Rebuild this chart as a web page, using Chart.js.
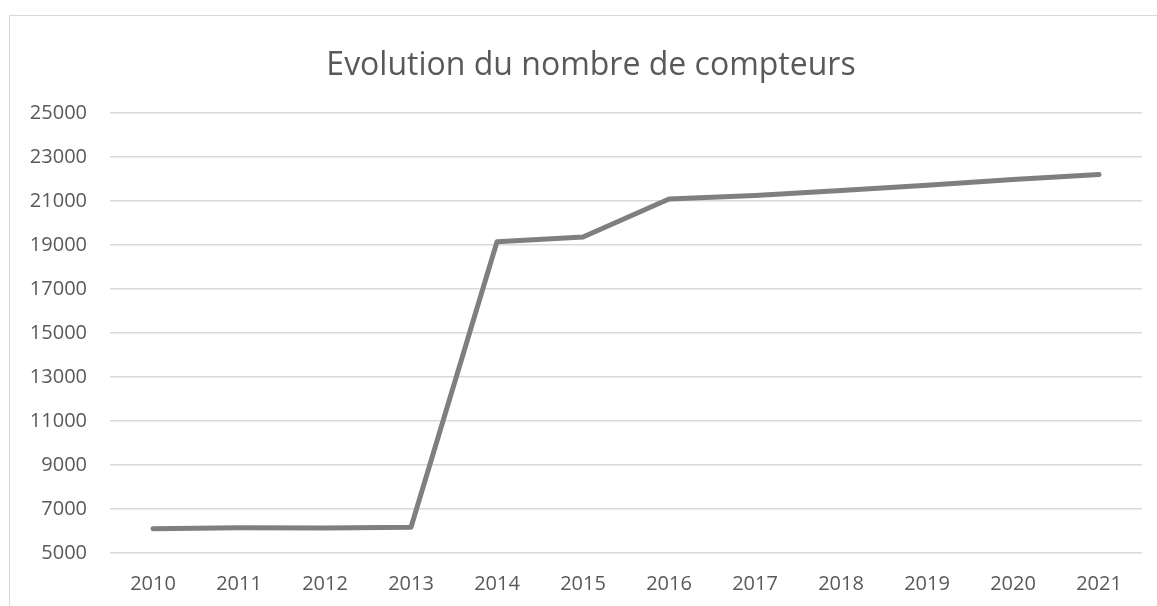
<!DOCTYPE html>
<html>
<head>
<meta charset="utf-8">
<script src="https://cdn.jsdelivr.net/npm/chart.js@4"></script>
<style>
  html, body { margin: 0; padding: 0; background: #fff; overflow: hidden; }
  #wrap { position: relative; width: 1157px; height: 606px; }
  #frame { position: absolute; left: 9px; top: 15px; width: 1200px; height: 700px; border: 1px solid #d9d9d9; box-sizing: border-box; }
  canvas { position: absolute; left: 0; top: 0; }
</style>
</head>
<body>
<div id="wrap">
  <div id="frame"></div>
  <canvas id="compteursChart" width="1157" height="606"></canvas>
</div>
<script>
var years = ["2010", "2011", "2012", "2013", "2014", "2015", "2016", "2017", "2018", "2019", "2020", "2021"];
var compteurs = [6100, 6150, 6140, 6170, 19150, 19360, 21090, 21250, 21480, 21720, 21980, 22210];
var yMin = 5000;
var yMax = 25000;
var yStep = 2000;
var chartTitle = "Evolution du nombre de compteurs";

// title drawn by hand so it can sit centred on the frame, not the canvas
var titlePlugin = {
    id: "frameTitle",
    afterDraw: function (chart) {
        var ctx = chart.ctx;
        ctx.save();
        ctx.font = "32px 'Open Sans'";
        ctx.fillStyle = "#595959";
        ctx.textAlign = "center";
        ctx.textBaseline = "alphabetic";
        ctx.fillText(chartTitle, 591, 75);
        ctx.restore();
    },
};

var ctx = document.getElementById("compteursChart").getContext("2d");

new Chart(ctx, {
    type: "line",
    data: {
        labels: years,
        datasets: [
            {
                label: "Compteurs",
                data: compteurs,
                borderColor: "#7f7f7f",
                borderWidth: 5,
                borderCapStyle: "round",
                borderJoinStyle: "round",
                pointRadius: 0,
                tension: 0,
                fill: false,
            },
        ],
    },
    options: {
        responsive: false,
        animation: false,
        layout: {
            padding: { top: 113, right: 15, bottom: 0, left: 0 },
        },
        scales: {
            x: {
                offset: true,
                grid: { display: false, drawTicks: false },
                border: { display: false },
                ticks: {
                    color: "#595959",
                    font: { family: "'Open Sans'", size: 20 },
                    padding: 19,
                    maxRotation: 0,
                },
                afterFit: function (scale) {
                    scale.height = 53;
                },
            },
            y: {
                min: yMin,
                max: yMax,
                grid: { color: "#d9d9d9", lineWidth: 1.5, drawTicks: false },
                border: { display: false },
                ticks: {
                    stepSize: yStep,
                    color: "#595959",
                    font: { family: "'Open Sans'", size: 20 },
                    padding: 23,
                    callback: function (value) {
                        return String(value);
                    },
                },
                afterFit: function (scale) {
                    scale.width = 110;
                },
            },
        },
        plugins: {
            legend: { display: false },
            title: { display: false },
            tooltip: { enabled: false },
        },
    },
    plugins: [titlePlugin],
});
</script>
</body>
</html>
